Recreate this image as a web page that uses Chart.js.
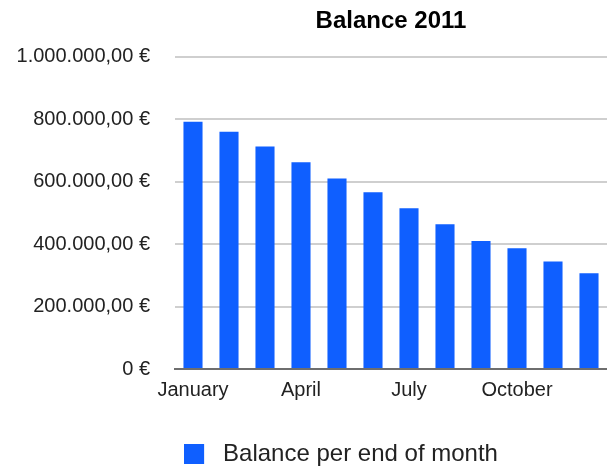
<!DOCTYPE html>
<html>
<head>
<meta charset="utf-8">
<script src="https://cdn.jsdelivr.net/npm/chart.js@4/dist/chart.umd.min.js"></script>
<style>
  html, body { margin: 0; padding: 0; background: #fff; overflow: hidden; }
  #wrap { width: 607px; height: 467px; }
</style>
</head>
<body>
<div id="wrap"><canvas id="myChart"></canvas></div>
<script>
// data
let months = ['January', 'February', 'March', 'April', 'May', 'June',
  'July', 'August', 'September', 'October', 'November', 'December']
let shownMonths = ['January', 'April', 'July', 'October'] // only these are labelled on the x-axis
let balance = [792000, 760000, 713000, 662000, 610000, 566000,
  515000, 464000, 410000, 387000, 344000, 307000]
let yTicks = [0, 200000, 400000, 600000, 800000, 1000000]

let barColor = '#0f5fff'

// 1000000 -> "1.000.000,00 €", 0 -> "0 €"
function euro(v) {
  if (v === 0) return '0 €'
  let s = Math.round(v).toString().replace(/\B(?=(\d{3})+(?!\d))/g, '.')
  return s + ',00 €'
}

// legend marker: blue square with empty room on its right (wider gap to the text)
let marker = document.createElement('canvas')
marker.width = 27; marker.height = 20
let mctx = marker.getContext('2d')
mctx.fillStyle = barColor
mctx.fillRect(0, 0, 20, 20)

// title is centred over the plot, legend sits right of centre
const shiftBoxes = {
  id: 'shiftBoxes',
  afterLayout(chart) {
    let lg = chart.legend
    lg.left += 31; lg.right += 31
    lg.top += 9; lg.bottom += 9
    let t = chart.titleBlock
    t.left += 81; t.right += 81
  }
}

var ctx = document.getElementById('myChart').getContext('2d');
var myChart = new Chart(ctx, {
  type: 'bar',
  data: {
    labels: months,
    datasets: [{
      label: 'Balance per end of month',
      data: balance,
      backgroundColor: barColor,
      borderWidth: 0,
      barPercentage: 0.53,
      categoryPercentage: 1,
      pointStyle: marker
    }]
  },
  plugins: [shiftBoxes],
  options: {
    responsive: true,
    maintainAspectRatio: false,
    animation: false,
    layout: { padding: { left: 13, right: 0, top: 0, bottom: 0 } },
    plugins: {
      title: {
        display: true,
        text: 'Balance 2011',
        color: '#000',
        font: { family: 'Liberation Sans', size: 24, weight: 'bold' },
        padding: { top: 7, bottom: 21 }
      },
      legend: {
        position: 'bottom',
        labels: {
          color: '#222',
          font: { family: 'Liberation Sans', size: 24 },
          usePointStyle: true,
          pointStyleWidth: 27,
          boxHeight: 20,
          padding: 14
        }
      },
      tooltip: { enabled: false }
    },
    scales: {
      x: {
        afterFit: function (axis) { axis.height += 8 },
        grid: { display: false, drawTicks: false },
        border: { color: '#6e6e6e', width: 2 },
        ticks: {
          autoSkip: false,
          maxRotation: 0,
          padding: 9,
          color: '#222',
          font: { family: 'Liberation Sans', size: 20 },
          callback: function (v, i) {
            return shownMonths.includes(months[i]) ? months[i] : ''
          }
        }
      },
      y: {
        min: 0,
        max: 1000000,
        afterBuildTicks: function (axis) {
          axis.ticks = yTicks.map(v => ({ value: v }))
        },
        afterFit: function (axis) { axis.width = 162 },
        grid: { color: '#cfcfcf', lineWidth: 2, drawTicks: false },
        border: { display: false },
        ticks: {
          padding: 25,
          color: '#222',
          font: { family: 'Liberation Sans', size: 20 },
          callback: function (v) { return euro(v) }
        }
      }
    }
  }
});
</script>
</body>
</html>
